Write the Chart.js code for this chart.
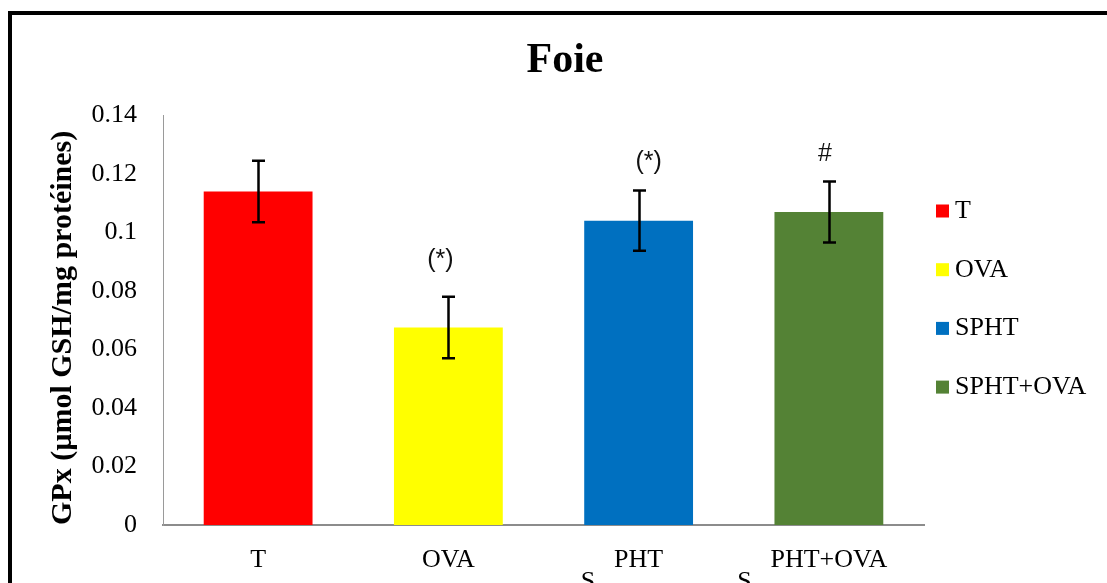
<!DOCTYPE html>
<html>
<head>
<meta charset="utf-8">
<title>Foie</title>
<script src="https://cdn.jsdelivr.net/npm/chart.js@4/dist/chart.umd.min.js"></script>
<style>
  html, body { margin: 0; padding: 0; background: #fff; overflow: hidden; }
  #wrap { position: relative; width: 1107px; height: 583px; }
  #wrap canvas { position: absolute; left: 0; top: 0; }
  #frame { position: absolute; left: 8px; top: 11px; width: 1200px; height: 700px;
           border: 4px solid #000; pointer-events: none; }
</style>
</head>
<body>
<div id="wrap">
  <canvas id="chart" width="1107" height="583"></canvas>
  <div id="frame"></div>
</div>
<script>
// GPx activity in liver, per group
const categories   = ['T', 'OVA', 'SPHT', 'SPHT+OVA'];
const gpxMeans     = [0.114, 0.0675, 0.104, 0.107];
const gpxErrors    = [0.0105, 0.0105, 0.0103, 0.0104];
const significance = ['', '(*)', '(*)', '#'];
const yTickLabels  = ['0', '0.02', '0.04', '0.06', '0.08', '0.1', '0.12', '0.14'];
const barColors    = ['#FF0000', '#FFFF00', '#0070C0', '#548235'];

Chart.defaults.font.family = "'Liberation Serif', 'Times New Roman', serif";
Chart.defaults.color = '#000';

// Error bars (mean ± SEM) plus significance marks above them
const errorBars = {
  id: 'errorBars',
  afterDatasetsDraw(chart, args, opts) {
    const { ctx } = chart;
    const y = chart.scales.y;
    const ds = chart.data.datasets[0];
    const meta = chart.getDatasetMeta(0);
    ctx.save();
    ctx.strokeStyle = opts.color;
    ctx.lineWidth = opts.lineWidth;
    meta.data.forEach((bar, i) => {
      const v = ds.data[i], e = ds.errors[i];
      const yTop = y.getPixelForValue(v + e);
      const yBot = y.getPixelForValue(v - e);
      const x = Math.round(bar.x) + 0.5;
      const hw = opts.capWidth / 2;
      ctx.beginPath();
      ctx.moveTo(x, yTop); ctx.lineTo(x, yBot);
      ctx.moveTo(x - hw, yTop); ctx.lineTo(x + hw, yTop);
      ctx.moveTo(x - hw, yBot); ctx.lineTo(x + hw, yBot);
      ctx.stroke();
      const mark = ds.marks[i];
      if (mark) {
        const off = opts.markOffsets[i];
        ctx.fillStyle = opts.markColor;
        ctx.font = opts.markFont;
        ctx.textAlign = 'center';
        ctx.textBaseline = 'middle';
        ctx.fillText(mark, bar.x + off[0], yTop + off[1]);
      }
    });
    ctx.restore();
  }
};

// Legend at the right: square swatch + group name
const sideLegend = {
  id: 'sideLegend',
  afterDraw(chart, args, opts) {
    const { ctx } = chart;
    const ds = chart.data.datasets[0];
    ctx.save();
    ctx.font = opts.font;
    ctx.textAlign = 'left';
    ctx.textBaseline = 'middle';
    chart.data.labels.forEach((lab, i) => {
      const cy = opts.top + i * opts.step;
      ctx.fillStyle = ds.backgroundColor[i];
      ctx.fillRect(opts.left, cy - opts.box / 2, opts.box, opts.box);
      ctx.fillStyle = opts.color;
      ctx.fillText(lab, opts.left + opts.box + opts.gap, cy);
    });
    ctx.restore();
  }
};

// The leading "S" of the SPHT labels sits on a lower line
const splitLabels = {
  id: 'splitLabels',
  afterDraw(chart, args, opts) {
    const { ctx } = chart;
    const x = chart.scales.x;
    ctx.save();
    ctx.font = opts.font;
    ctx.fillStyle = opts.color;
    ctx.textAlign = 'center';
    ctx.textBaseline = 'middle';
    chart.data.labels.forEach((lab, i) => {
      if (lab.startsWith('S')) {
        const rest = lab.slice(1);
        const px = x.getPixelForTick(i);
        const start = px - ctx.measureText(rest).width / 2;
        ctx.fillText('S', start - opts.gap, x.top + opts.dy);
      }
    });
    ctx.restore();
  }
};

new Chart(document.getElementById('chart'), {
  type: 'bar',
  data: {
    labels: categories,
    datasets: [{
      data: gpxMeans,
      errors: gpxErrors,
      marks: significance,
      backgroundColor: barColors,
      borderWidth: 0,
      categoryPercentage: 1,
      barPercentage: 0.572
    }]
  },
  options: {
    responsive: false,
    animation: false,
    layout: { padding: { left: 23, right: 0, top: 0, bottom: 0 } },
    plugins: {
      legend: { display: false },
      tooltip: { enabled: false },
      title: {
        display: true,
        text: 'Foie',
        color: '#000',
        font: { size: 42, weight: 'bold' },
        padding: { top: 36, bottom: 29 }
      },
      errorBars: {
        color: '#000', lineWidth: 2.5, capWidth: 13,
        markColor: '#111', markFont: "25px 'Liberation Sans', Arial, sans-serif",
        markOffsets: [[0, -30], [-8, -37], [10, -28], [-4, -27]]
      },
      sideLegend: {
        left: 936, top: 211, step: 58.7, box: 13, gap: 6,
        color: '#000', font: "26px 'Liberation Serif', 'Times New Roman', serif"
      },
      splitLabels: {
        gap: 26, dy: 57, color: '#000',
        font: "26px 'Liberation Serif', 'Times New Roman', serif"
      }
    },
    scales: {
      x: {
        afterFit(scale) { scale.height = 58; },
        grid: { display: false, drawTicks: false },
        border: { display: true, color: '#8c8c8c', width: 2 },
        ticks: {
          padding: 20,
          font: { size: 26 },
          color: '#000',
          callback(value) {
            const lab = this.getLabelForValue(value);
            return lab.startsWith('S') ? lab.slice(1) : lab;
          }
        }
      },
      y: {
        min: 0,
        max: 0.14,
        afterFit(scale) { scale.width = 140; },
        grid: { display: false, drawTicks: false },
        border: { display: true, color: '#9a9a9a', width: 1 },
        ticks: {
          stepSize: 0.02,
          padding: 26,
          font: { size: 26 },
          color: '#000',
          callback(value, index) { return yTickLabels[index]; }
        },
        title: {
          display: true,
          align: 'start',
          text: 'GPx (µmol GSH/mg protéines)',
          color: '#000',
          font: { size: 30, weight: 'bold' },
          padding: { top: 22, bottom: 0 }
        }
      },
      // empty right-hand axis reserving the space where the legend sits
      legendSpace: {
        type: 'linear',
        position: 'right',
        afterFit(scale) { scale.width = 183; },
        grid: { display: false, drawTicks: false },
        border: { display: false },
        ticks: { display: false }
      }
    }
  },
  plugins: [errorBars, sideLegend, splitLabels]
});
</script>
</body>
</html>
